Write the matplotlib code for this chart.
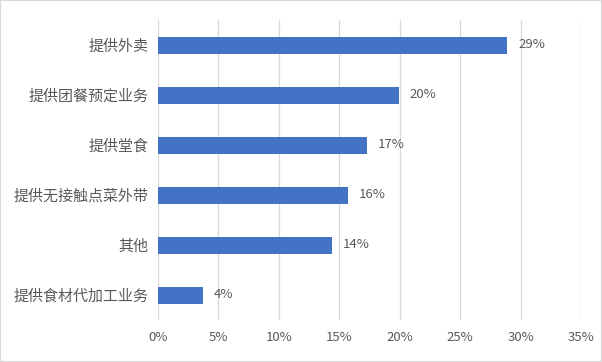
import matplotlib
matplotlib.use('Agg')
import matplotlib.pyplot as plt
from matplotlib.patches import Rectangle

plt.rcParams['font.family'] = ['Noto Sans CJK SC', 'DejaVu Sans']

# dados
categorias = ['提供外卖', '提供团餐预定业务', '提供堂食', '提供无接触点菜外带', '其他', '提供食材代加工业务']
valores = [28.9, 19.9, 17.3, 15.7, 14.4, 3.7]
rotulos = ['29%', '20%', '17%', '16%', '14%', '4%']
ticks_x = [0, 5, 10, 15, 20, 25, 30, 35]

cinza = '#595959'
azul = '#4472C4'

fig = plt.figure(figsize=(6.02, 3.62), dpi=100)
ax = fig.add_axes([158/602, 42/362, 423/602, 300/362])

y = list(range(len(categorias)))[::-1]
barras = ax.barh(y, valores, height=0.34, color=azul, zorder=3)
ax.bar_label(barras, labels=rotulos, padding=8, fontsize=9.5, color=cinza)

ax.set_xlim(0, 35)
ax.set_ylim(-0.5, 5.5)
ax.set_xticks(ticks_x)
ax.set_xticklabels([f'{t}%' for t in ticks_x], fontsize=9.5, color=cinza)
ax.set_yticks(y)
ax.set_yticklabels(categorias, fontsize=10.8, color=cinza)
ax.tick_params(length=0, pad=7)
ax.tick_params(axis='x', pad=8)
ax.grid(axis='x', color='#d9d9d9', lw=0.9, zorder=0)
for s in ax.spines.values():
    s.set_visible(False)

# borda externa
fig.patches.append(Rectangle((0, 0), 1, 1, transform=fig.transFigure,
                             fill=False, edgecolor='#d9d9d9', lw=1.5))

fig.savefig('out.png', dpi=100)
